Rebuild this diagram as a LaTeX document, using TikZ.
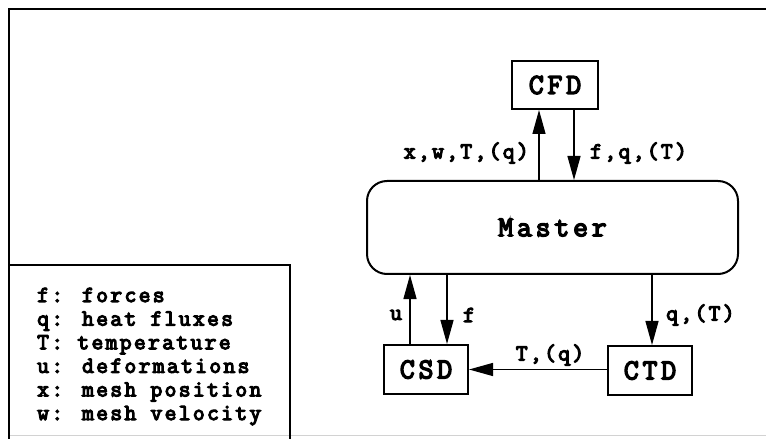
\documentclass[tikz,border=0pt]{standalone}
\usepackage{fontspec}
\newfontfamily\cour{Latin Modern Mono}[LetterSpace=10, FakeBold=5]
\newfontfamily\courbig{Latin Modern Mono}[LetterSpace=13, FakeBold=5]
\usetikzlibrary{arrows.meta}
\tikzset{
  box/.style={draw, line width=2bp, minimum width=84bp, minimum height=49bp, inner sep=0pt,
    font=\courbig\fontsize{29bp}{30bp}\selectfont},
  lab/.style={inner sep=0pt, font=\cour\fontsize{23bp}{24bp}\selectfont},
  leg/.style={inner sep=0pt, anchor=base west, font=\cour\fontsize{23bp}{24bp}\selectfont},
  arr/.style={line width=1.3bp, -{Triangle[length=24bp,width=13bp]}},
  frame/.style={line width=2bp}
}
\begin{document}
\begin{tikzpicture}[x=1bp,y=-1bp]
\useasboundingbox (0,0) rectangle (766,439);
% outer frame
\draw[frame] (8,9) -- (770,9);
\draw[frame] (9,9) -- (9,445);
\draw[gray!35, line width=1bp] (9,435) -- (766,435);
% legend box
\draw[line width=1.6bp] (9,445) -- (9,265) -- (290,265) -- (290,445);
\node[leg] (l1) at (37,302) {f: forces};
\node[leg] (l2) at (37,325.6) {q: heat fluxes};
\node[leg] (l3) at (37,349.2) {T: temperature};
\node[leg] (l4) at (37,372.8) {u: deformations};
\node[leg] (l5) at (37,396.4) {x: mesh position};
\node[leg] (l6) at (37,420) {w: mesh velocity};
% boxes
\node[box, minimum width=86bp, minimum height=48bp] (CFD) at (555,85) {CFD};
\node[box, minimum width=371bp, minimum height=93bp, rounded corners=20bp] (M) at (552.5,227.5) {Master};
\node[box] (CSD) at (426,369.5) {CSD};
\node[box] (CTD) at (650,370.5) {CTD};
% connector x positions
\coordinate (a1) at (539,0);
\coordinate (a2) at (574,0);
\coordinate (a3) at (410,0);
\coordinate (a4) at (447,0);
\coordinate (a5) at (652,0);
\draw[arr] (M.north -| a1) -- (CFD.south -| a1);
\draw[arr] (CFD.south -| a2) -- (M.north -| a2);
\draw[arr] (CSD.north -| a3) -- (M.south -| a3);
\draw[arr] (M.south -| a4) -- (CSD.north -| a4);
\draw[arr] (M.south -| a5) -- (CTD.north -| a5);
\draw[arr] (CTD.west |- CSD.east) -- (CSD.east);
% labels
\node[lab, anchor=east] (t1) at (529,153) {x,w,T,(q)};
\node[lab, anchor=west] (t2) at (590,153) {f,q,(T)};
\node[lab] (t3) at (396,315) {u};
\node[lab] (t4) at (469,315) {f};
\node[lab, anchor=west] (t5) at (666,315) {q,(T)};
\node[lab] (t6) at (550,355) {T,(q)};
\end{tikzpicture}
\end{document}
